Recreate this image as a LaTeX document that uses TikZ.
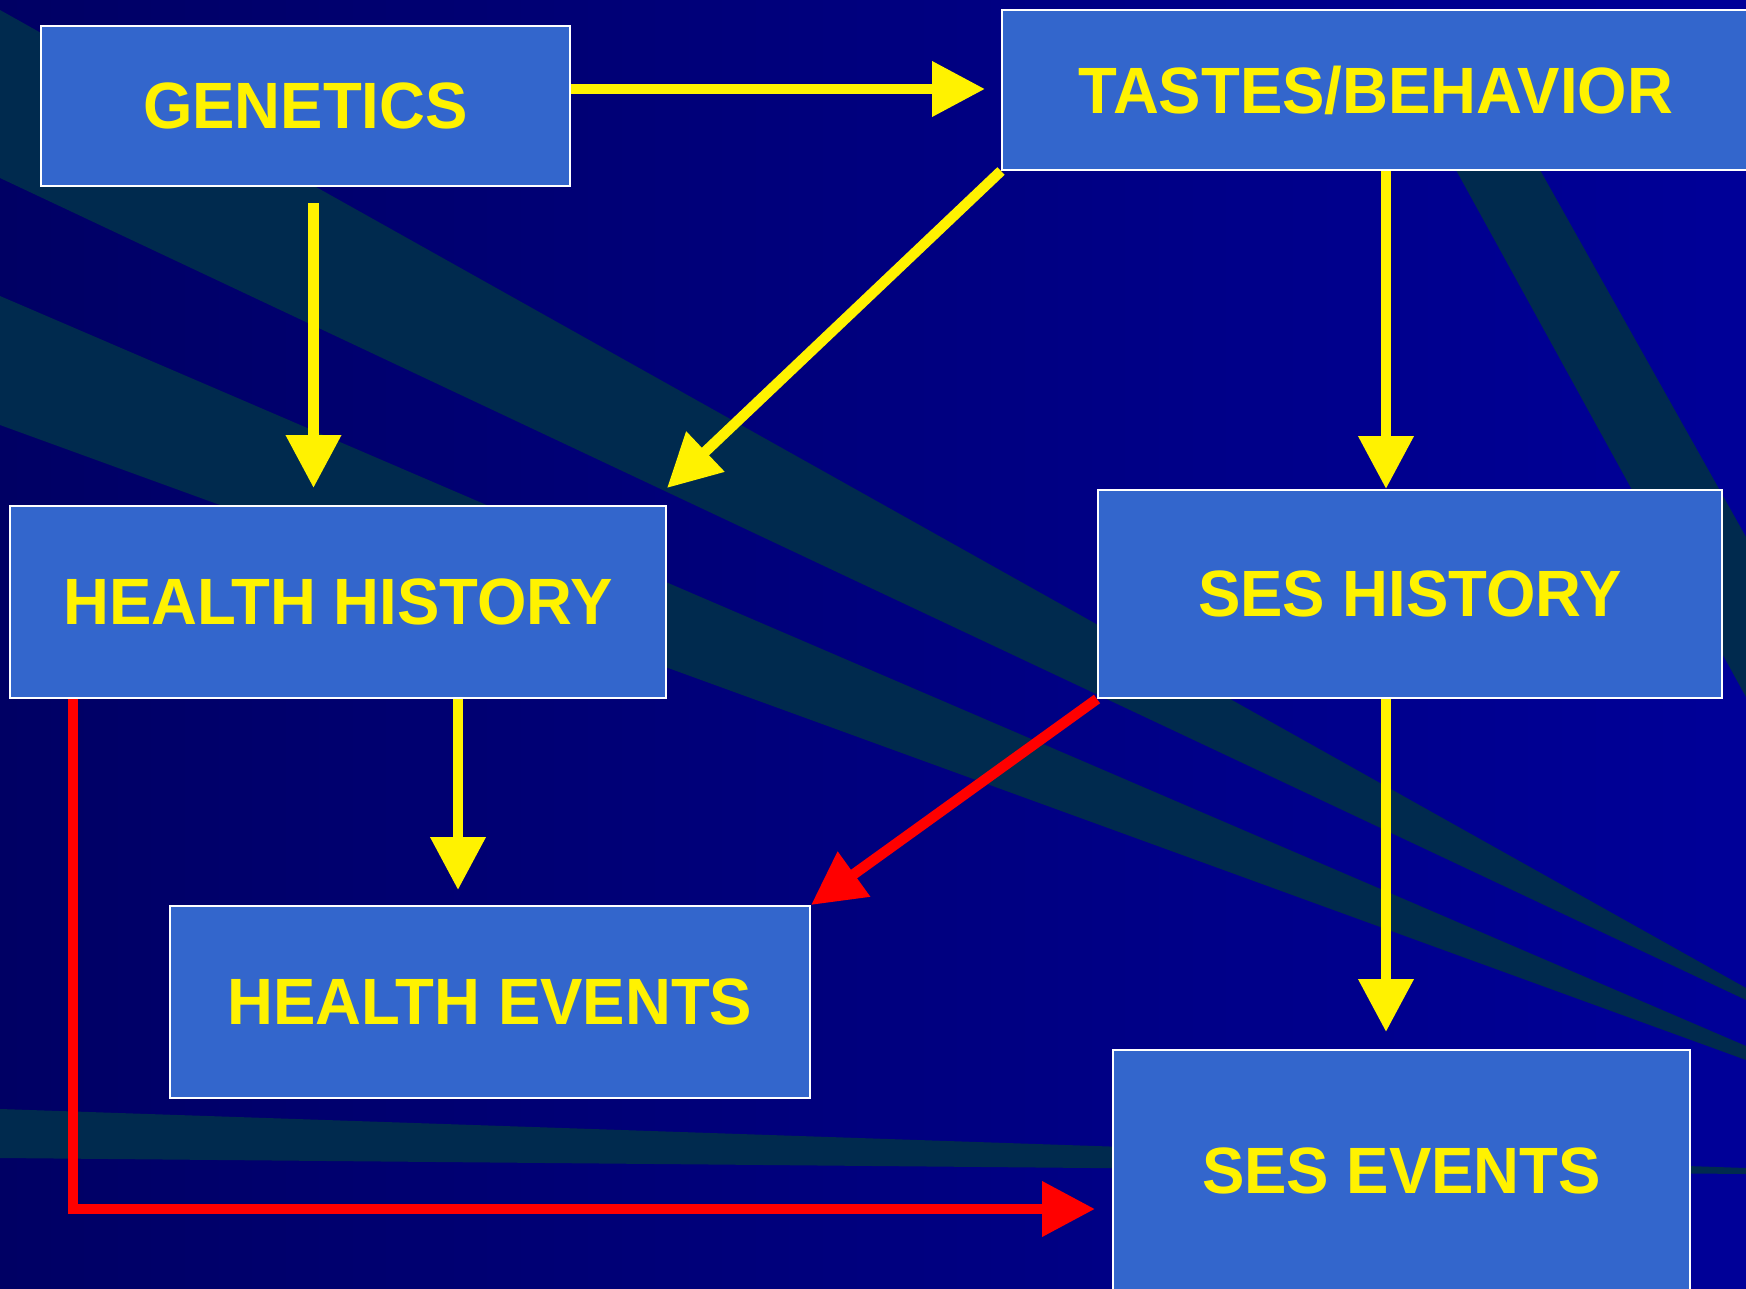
\documentclass[tikz,border=0pt]{standalone}
\usepackage{fontspec}
\setmainfont{Liberation Sans}[FakeStretch=0.97]
\usetikzlibrary{arrows.meta}
\definecolor{bgdark}{HTML}{000064}
\definecolor{bglight}{HTML}{000098}
\definecolor{streak}{HTML}{002A4E}
\definecolor{boxblue}{HTML}{3366CC}

\begin{document}
\begin{tikzpicture}[x=1pt, y=-1pt,
    box/.style={rectangle, draw=white, line width=2pt, fill=boxblue, text=yellow, inner sep=0pt,
        font=\fontsize{65.5}{72}\selectfont\bfseries},
    yarrow/.style={draw=yellow, line width=10.5pt, -{Triangle[length=53pt, width=53pt]}},
    rarrow/.style={yarrow, draw=red}]
    \useasboundingbox (0,0) rectangle (1746,1289);
    \clip (0,0) rectangle (1746,1289);
    \shade[left color=bgdark, right color=bglight] (0,0) rectangle (1746,1289);
    \fill[streak] (0,10) -- (1746,988) -- (1746,1000) -- (0,178) -- cycle;
    \fill[streak] (0,296) -- (1746,1046) -- (1746,1060) -- (0,425) -- cycle;
    \fill[streak] (0,1109) -- (1746,1168) -- (1746,1174) -- (0,1158) -- cycle;
    \fill[streak] (1456,170) -- (1540,170) -- (1746,537) -- (1746,697) -- cycle;

    \node[box, minimum width=529pt, minimum height=160pt] (gen) at (305.5,106) {GENETICS};
    \node[box, minimum width=748pt, minimum height=160pt] (tb) at (1376,90) {TASTES/BEHAVIOR};
    \node[box, minimum width=656pt, minimum height=192pt] (hh) at (338,602) {HEALTH HISTORY};
    \node[box, minimum width=624pt, minimum height=208pt] (sh) at (1410,594) {SES HISTORY};
    \node[box, minimum width=640pt, minimum height=192pt] (he) at (490,1002) {HEALTH EVENTS};
    \node[box, minimum width=577pt, minimum height=242pt] (se) at (1401.5,1171) {SES EVENTS};

    \draw[yarrow, shorten >=16pt] ([yshift=17pt]gen.east) -- ([yshift=17pt]gen.east -| tb.west);
    \draw[yarrow, shorten <=16pt, shorten >=17pt] ([xshift=8pt]gen.south) -- ([xshift=8pt]gen.south |- hh.north);
    \draw[yarrow] (tb.south west) -- ([yshift=17pt]hh.north east);
    \draw[yarrow] ([xshift=10pt]tb.south) -- ([xshift=10pt]tb.south |- sh.north);
    \draw[yarrow, shorten >=15pt] ([xshift=120pt]hh.south) -- ([xshift=120pt]hh.south |- he.north);
    \draw[yarrow, shorten >=17pt] ([xshift=-24pt]sh.south) -- ([xshift=-24pt]sh.south |- se.north);
    \draw[rarrow] (sh.south west) -- (he.north east);
    \draw[rarrow, shorten >=17pt] ([xshift=64pt]hh.south west) |- ([yshift=-38pt]se.west);
\end{tikzpicture}
\end{document}
